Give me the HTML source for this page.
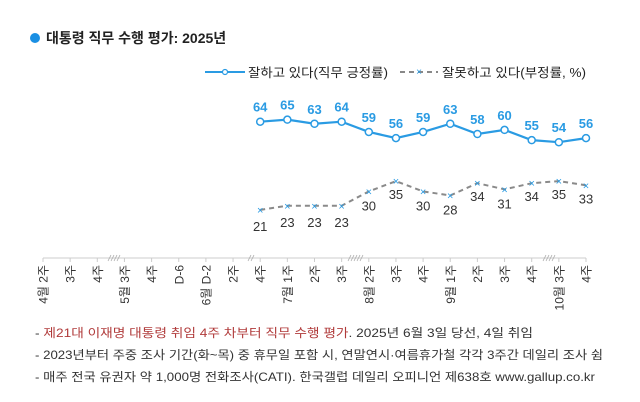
<!DOCTYPE html>
<html><head><meta charset="utf-8"><style>
body{margin:0;background:#fff;width:640px;height:402px;overflow:hidden}
svg{display:block;font-family:"Liberation Sans","Noto Sans CJK KR",sans-serif}
</style></head><body>
<svg width="640" height="402" viewBox="0 0 640 402">
<circle cx="35" cy="38" r="5" fill="#1a8fe3"/>
<text x="46" y="43" font-size="14" font-weight="bold" fill="#222">대통령 직무 수행 평가: 2025년</text>
<line x1="205" y1="72" x2="245" y2="72" stroke="#2a9be3" stroke-width="2"/>
<circle cx="225" cy="72" r="2.5" fill="#fff" stroke="#2a9be3" stroke-width="1.2"/>
<text x="248" y="77" font-size="12.5" fill="#222" textLength="140" lengthAdjust="spacingAndGlyphs">잘하고 있다(직무 긍정률)</text>
<line x1="400" y1="72" x2="438" y2="72" stroke="#888" stroke-width="2" stroke-dasharray="5,4"/>
<text x="419" y="75" font-size="10" fill="#2a9be3" text-anchor="middle">×</text>
<text x="442" y="77" font-size="12.5" fill="#222" textLength="144" lengthAdjust="spacingAndGlyphs">잘못하고 있다(부정률, %)</text>
<g id="chart"></g>
<line x1="43" y1="258" x2="586" y2="258" stroke="#ccc" stroke-width="1"/>
<g stroke="#ccc" stroke-width="1" id="ticks"></g>
<g stroke="#aaa" stroke-width="0.8">
<path d="M108 261l3-6M111 261l3-6M114 261l3-6M117 261l3-6"/>
<path d="M248 261l3-6M251 261l3-6"/>
<path d="M348 261l3-6M351 261l3-6M354 261l3-6M357 261l3-6M360 261l3-6"/>
<path d="M543 261l3-6M546 261l3-6M549 261l3-6M552 261l3-6"/>
</g>
<g id="labels" font-size="12" fill="#333"></g>
<text x="35" y="337" font-size="12" textLength="498" lengthAdjust="spacingAndGlyphs"><tspan fill="#333">- </tspan><tspan fill="#b03a3a">제21대 이재명 대통령 취임 4주 차부터 직무 수행 평가</tspan><tspan fill="#333">. 2025년 6월 3일 당선, 4일 취임</tspan></text>
<text x="35" y="359" font-size="12" fill="#333" textLength="568" lengthAdjust="spacingAndGlyphs">- 2023년부터 주중 조사 기간(화~목) 중 휴무일 포함 시, 연말연시·여름휴가철 각각 3주간 데일리 조사 쉼</text>
<text x="35" y="381" font-size="12" fill="#333" textLength="560" lengthAdjust="spacingAndGlyphs">- 매주 전국 유권자 약 1,000명 전화조사(CATI). 한국갤럽 데일리 오피니언 제638호 www.gallup.co.kr</text>
<script>
var NS="http://www.w3.org/2000/svg";
function el(p,t,a,txt){var e=document.createElementNS(NS,t);for(var k in a)e.setAttribute(k,a[k]);if(txt!=null)e.textContent=txt;p.appendChild(e);return e;}
var labs=["4월 2주","3주","4주","5월 3주","4주","D-6","6월 D-2","2주","4주","7월 1주","2주","3주","8월 2주","3주","4주","9월 1주","2주","3주","4주","10월 3주","4주"];
var tk=document.getElementById("ticks"),lb=document.getElementById("labels");
function X(i){return 43+i*27.15;}
for(var i=0;i<21;i++){el(tk,"line",{x1:X(i),y1:258,x2:X(i),y2:262});
el(lb,"text",{x:0,y:0,transform:"translate("+(X(i)+4.5)+",265) rotate(-90)","text-anchor":"end"},labs[i]);}
var ap=[64,65,63,64,59,56,59,63,58,60,55,54,56],dp=[21,23,23,23,30,35,30,28,34,31,34,35,33];
function Y(v){return 121.7+(64-v)*2.05;}
var c=document.getElementById("chart");
var pa="",pd="";
for(var j=0;j<13;j++){var x=X(j+8);pa+=(j?"L":"M")+x+" "+Y(ap[j]);pd+=(j?"L":"M")+x+" "+Y(dp[j]);}
el(c,"path",{d:pd,fill:"none",stroke:"#8a8a8a","stroke-width":2,"stroke-dasharray":"5,4"});
el(c,"path",{d:pa,fill:"none",stroke:"#2a9be3","stroke-width":2.2});
for(var j=0;j<13;j++){var x=X(j+8);
el(c,"circle",{cx:x,cy:Y(ap[j]),r:3.5,fill:"#fff",stroke:"#2a9be3","stroke-width":1.5});
el(c,"text",{x:x,y:Y(ap[j])-10,"font-size":13,"font-weight":"bold",fill:"#2a9be3","text-anchor":"middle"},ap[j]);
el(c,"text",{x:x,y:Y(dp[j])+4,"font-size":11,fill:"#2a9be3","text-anchor":"middle"},"×");
var ly=(j<4)?Y(dp[j])+21:(j==4||j==6||j==7||j==9)?Y(dp[j])+19:Y(dp[j])+18;
el(c,"text",{x:x,y:ly,"font-size":13,fill:"#333","text-anchor":"middle"},dp[j]);}
</script>
</svg>
</body></html>
